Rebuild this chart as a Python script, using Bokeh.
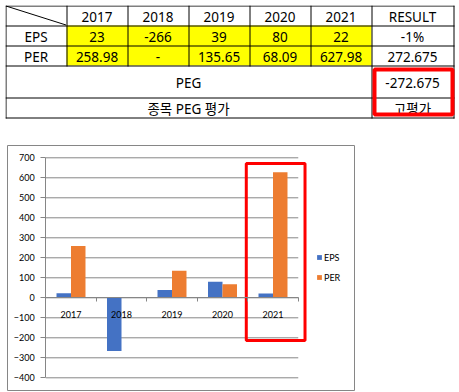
import numpy as np
from bokeh.plotting import figure
from bokeh.layouts import column
from bokeh.models import (Range1d, LinearAxis, FixedTicker, Legend, LegendItem)
from bokeh.core.properties import value
from bokeh.embed import file_html
from bokeh.resources import INLINE

# ---------------- data ----------------
years = ["2017", "2018", "2019", "2020", "2021"]
eps = [23, -266, 39, 80, 22]
per = [258.98, None, 135.65, 68.09, 627.98]
row_labels = ["EPS", "PER"]
result_header = "RESULT"
result_eps = "-1%"
result_per = "272.675"
peg_label = "PEG"
peg_value = "-272.675"
rating_label = "종목 PEG 평가"
rating_value = "고평가"
y_ticks = [-400, -300, -200, -100, 0, 100, 200, 300, 400, 500, 600, 700]

# ---------------- styles ----------------
EPS_COLOR = "#4472C4"
PER_COLOR = "#ED7D31"
GRAY = "#868686"
RED = "#FF0000"
TABLE_FONT = "Noto Sans, Noto Sans CJK KR"
CHART_FONT = "Lato"

# ---------------- table (page-pixel layout) ----------------
col_edges = [5, 66, 127, 188, 249, 310, 371, 453]
row_edges = [5, 25, 45, 65, 97, 117]

t = figure(width=452, height=135, x_range=Range1d(5, 457), y_range=Range1d(140, 5),
           output_backend="svg", toolbar_location=None, x_axis_type=None, y_axis_type=None,
           min_border=0, outline_line_color=None, frame_align=False)
t.grid.visible = False

# yellow data cells
t.quad(left=[col_edges[1]], right=[col_edges[6]], top=[row_edges[1]], bottom=[row_edges[3]],
       fill_color="#FFFF00", line_color=None)

h = 0.5
hx0, hx1, hy = [], [], []
for r in row_edges:
    hx0.append(col_edges[0]); hx1.append(col_edges[-1] + 1); hy.append(r + h)
t.segment(x0=hx0, x1=hx1, y0=hy, y1=hy, line_color="black", line_width=1)
vx, vy0, vy1 = [], [], []
for i, cx in enumerate(col_edges):
    bottom = row_edges[-1] if i in (0, 6, 7) else row_edges[3]
    vx.append(cx + h); vy0.append(row_edges[0]); vy1.append(bottom + 1)
t.segment(x0=vx, x1=vx, y0=vy0, y1=vy1, line_color="black", line_width=1)
t.segment(x0=[col_edges[0] + h], y0=[row_edges[0] + h], x1=[col_edges[1] - h], y1=[row_edges[1] - h],
          line_color="black", line_width=1)


def fmt(v):
    return "-" if v is None else f"{v:g}"


def cc(i):
    return (col_edges[i] + col_edges[i + 1]) / 2


def rc(j):
    return (row_edges[j] + row_edges[j + 1]) / 2 + 1


tx, ty, tt = [], [], []
for i, yname in enumerate(years):
    tx.append(cc(i + 1)); ty.append(rc(0)); tt.append(yname)
tx.append(cc(6)); ty.append(rc(0)); tt.append(result_header)
for j, (lab, vals, res) in enumerate([(row_labels[0], eps, result_eps), (row_labels[1], per, result_per)]):
    tx.append(cc(0)); ty.append(rc(j + 1)); tt.append(lab)
    for i, v in enumerate(vals):
        tx.append(cc(i + 1)); ty.append(rc(j + 1)); tt.append(fmt(v))
    tx.append(cc(6)); ty.append(rc(j + 1)); tt.append(res)
merged_x = (col_edges[0] + col_edges[6]) / 2
tx += [merged_x, cc(6), merged_x, cc(6)]
ty += [rc(3), rc(3), rc(4), rc(4)]
tt += [peg_label, peg_value, rating_label, rating_value]

t.text(x=tx, y=ty, text=tt, text_align="center", text_baseline="middle",
       text_font=value(TABLE_FONT), text_font_size="13.5px", text_color="black")

t.quad(left=[374], right=[452], top=[69], bottom=[114], fill_color=None,
       line_color=RED, line_width=4)

# ---------------- chart ----------------
PX_PER_CAT = 50.5
X0 = -(45.25 - 7) / PX_PER_CAT
X1 = X0 + 347 / PX_PER_CAT

c = figure(width=450, height=252, x_range=Range1d(X0, X1), y_range=Range1d(-463.5, 761.5),
           output_backend="svg", toolbar_location=None, x_axis_type=None, y_axis_type=None,
           min_border_left=2, min_border_right=101, min_border_top=5, min_border_bottom=2,
           outline_line_color=GRAY, outline_line_width=1, frame_align=False)
c.grid.visible = False

n = len(years)
centers = np.arange(n) + 0.5
ncat = float(n)

c.segment(x0=[0] * len(y_ticks), x1=[ncat] * len(y_ticks), y0=y_ticks, y1=y_ticks,
          line_color=GRAY, line_width=1)

bw = 0.287
per_vals = [np.nan if v is None else v for v in per]
r_eps = c.vbar(x=centers - bw / 2, top=eps, bottom=0, width=bw, fill_color=EPS_COLOR, line_color=None)
r_per = c.vbar(x=centers + bw / 2, top=per_vals, bottom=0, width=bw, fill_color=PER_COLOR, line_color=None)

yax = LinearAxis(fixed_location=0, bounds=(y_ticks[0], y_ticks[-1]),
                 ticker=FixedTicker(ticks=y_ticks, minor_ticks=[]),
                 axis_line_color=GRAY, major_tick_line_color=GRAY,
                 major_tick_out=5, major_tick_in=0, minor_tick_line_color=None,
                 major_label_standoff=6, major_label_text_font=CHART_FONT,
                 major_label_text_font_size="9px", major_label_text_color="black")
c.add_layout(yax, "left")

xax = LinearAxis(fixed_location=0, bounds=(0, ncat),
                 ticker=FixedTicker(ticks=list(centers), minor_ticks=list(range(n + 1))),
                 major_label_overrides={float(cx): yname for cx, yname in zip(centers, years)},
                 axis_line_color=GRAY, major_tick_line_color=None, major_tick_out=0, major_tick_in=0,
                 minor_tick_line_color=GRAY, minor_tick_out=4, minor_tick_in=0,
                 major_label_standoff=9, major_label_text_font=CHART_FONT,
                 major_label_text_font_size="9px", major_label_text_color="black")
c.add_layout(xax, "below")

legend = Legend(items=[LegendItem(label="EPS", renderers=[r_eps]),
                       LegendItem(label="PER", renderers=[r_per])],
                location=(309, 103), orientation="vertical",
                glyph_width=6, glyph_height=6, label_standoff=2, spacing=0,
                label_height=20, padding=0, margin=0,
                background_fill_alpha=0, border_line_color=None,
                label_text_font=CHART_FONT, label_text_font_size="9px", label_text_color="black")
c.add_layout(legend)

c.quad(left=[3.971], right=[5.134], top=[671.5], bottom=[-213.5], fill_color=None,
       line_color=RED, line_width=3)

layout = column(t, c, spacing=0, margin=(5, 0, 0, 5))

open("out.html", "w").write(file_html(layout, INLINE))
